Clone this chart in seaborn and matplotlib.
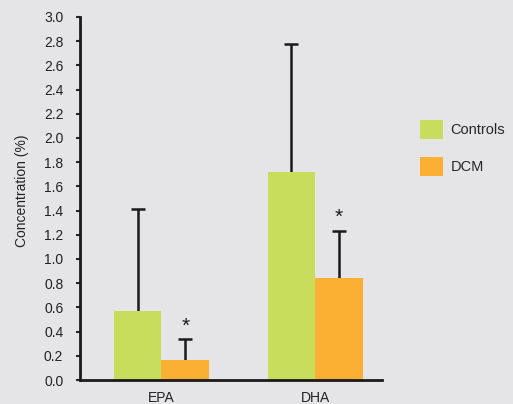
import pandas as pd
import matplotlib
matplotlib.use("Agg")
import matplotlib.pyplot as plt
import seaborn as sns

# values
acids = ["EPA", "DHA"]
groups = ["Controls", "DCM"]
controls_mean = [0.57, 1.72]
controls_err = [0.84, 1.06]
dcm_mean = [0.165, 0.845]
dcm_err = [0.17, 0.39]
yticks = [0.0, 0.2, 0.4, 0.6, 0.8, 1.0, 1.2, 1.4, 1.6, 1.8, 2.0, 2.2, 2.4, 2.6, 2.8, 3.0]

df = pd.DataFrame({
    "acid": acids * 2,
    "group": [groups[0]] * 2 + [groups[1]] * 2,
    "value": controls_mean + dcm_mean,
})
errs = {groups[0]: controls_err, groups[1]: dcm_err}

bg = "#e5e5e8"
ink = "#1a1a1a"
palette = {"Controls": "#c8dd5b", "DCM": "#fbb034"}

sns.set_style("white")
plt.rcParams["font.family"] = ["Liberation Sans", "DejaVu Sans"]

fig = plt.figure(figsize=(5.13, 4.04), dpi=100, facecolor=bg)
ax = fig.add_axes([80 / 513, 1 - 380 / 404, 302 / 513, 363 / 404])
ax.set_facecolor(bg)

sns.barplot(data=df, x="acid", y="value", hue="group", order=acids,
            hue_order=groups, palette=palette, width=0.62, saturation=1,
            errorbar=None, ax=ax, linewidth=0, zorder=2)

# upper-only error bars and significance stars over the DCM bars
cap = 0.046
for i, g in enumerate(groups):
    for j, bar in enumerate(ax.containers[i]):
        cx = bar.get_x() + bar.get_width() / 2
        h = bar.get_height()
        top = h + errs[g][j]
        ax.vlines(cx, h, top, color=ink, linewidth=1.8, zorder=1)
        ax.hlines(top, cx - cap, cx + cap, color=ink, linewidth=1.8, zorder=1)
        if g == "DCM":
            ax.text(cx, top + 0.11, "*", ha="center", va="center",
                    fontsize=15, color=ink)

ax.set_ylim(0, 3.0)
ax.set_xlim(-0.53, 1.435)
ax.set_yticks(yticks)
ax.set_yticklabels([f"{t:.1f}" for t in yticks], fontsize=10, color="#222222")
ax.set_xticks(range(len(acids)))
ax.set_xticklabels(acids, fontsize=10, color="#222222")
ax.tick_params(axis="y", length=3, width=1.5, direction="out", pad=9, left=True)
ax.tick_params(axis="x", length=0, pad=8)
ax.set_xlabel("")
ax.set_ylabel("Concentration (%)", fontsize=10, color="#222222")
ax.yaxis.set_label_coords(-0.17, 0.52)

for s in ["top", "right"]:
    ax.spines[s].set_visible(False)
for s in ["left", "bottom"]:
    ax.spines[s].set_linewidth(2)
    ax.spines[s].set_color(ink)

handles, labels = ax.get_legend_handles_labels()
ax.legend(handles, labels, loc="upper left", bbox_to_anchor=(420 / 513, 1 - 120 / 404),
          bbox_transform=fig.transFigure, frameon=False, fontsize=10.5,
          handlelength=1.6, handleheight=1.6, handletextpad=0.5,
          labelspacing=1.25, borderpad=0, borderaxespad=0)

fig.savefig("out.png", dpi=100, facecolor=bg)
